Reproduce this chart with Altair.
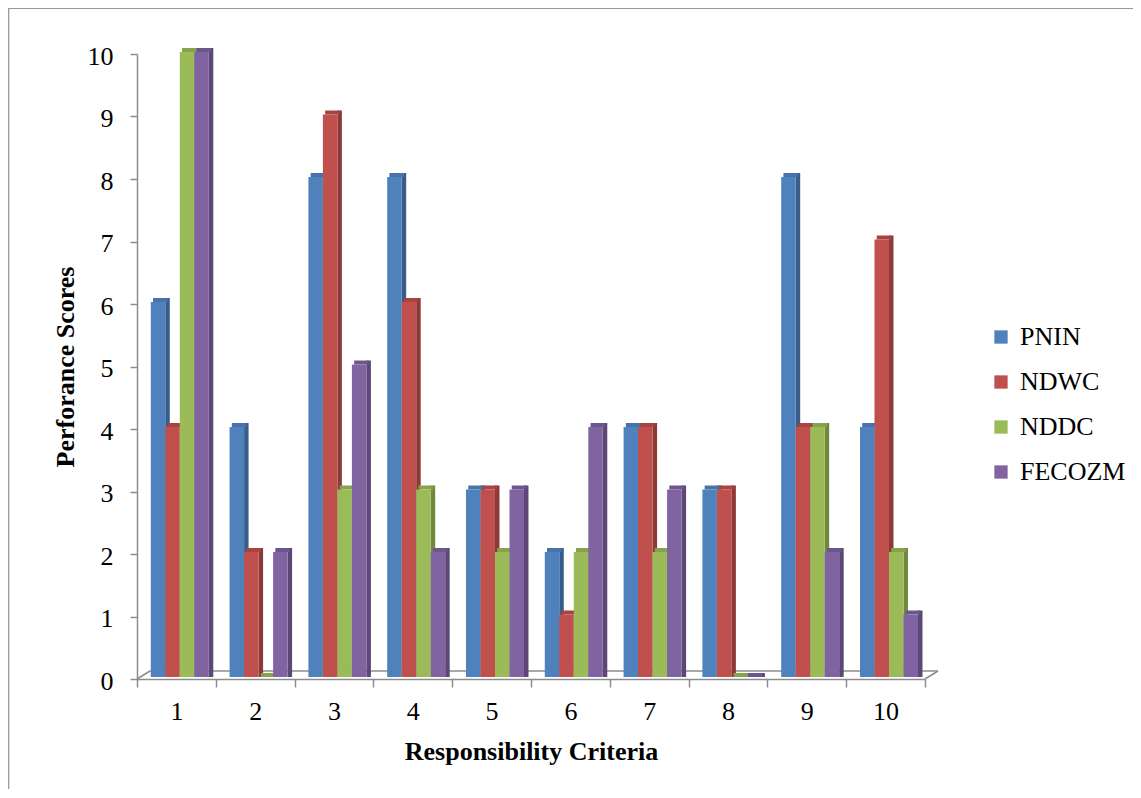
import altair as alt
import pandas as pd

# ---- data ----
groups = ["1", "2", "3", "4", "5", "6", "7", "8", "9", "10"]
series = ["PNIN", "NDWC", "NDDC", "FECOZM"]
pnin = [6, 4, 8, 8, 3, 2, 4, 3, 8, 4]
ndwc = [4, 2, 9, 6, 3, 1, 4, 3, 4, 7]
nddc = [10, 0, 3, 3, 2, 2, 2, 0, 4, 2]
fecozm = [10, 2, 5, 2, 3, 4, 3, 0, 2, 1]
y_ticks = [0, 1, 2, 3, 4, 5, 6, 7, 8, 9, 10]

# ---- styles ----
front_colors = ["#4F81BD", "#C0504D", "#9BBB59", "#8064A2"]
top_colors = ["#4673AA", "#A8433F", "#86A34B", "#6D568E"]
side_colors = ["#385D8A", "#8C3A38", "#71893F", "#5C4776"]
FONT = "Liberation Serif"
GRAY = "#8C8C8C"
GAP = 0.175   # offset of first bar inside its group (group width = 1)
BW = 0.184    # bar width in group units

rows = []
for si, (name, vals) in enumerate(zip(series, [pnin, ndwc, nddc, fecozm])):
    for gi, (g, v) in enumerate(zip(groups, vals)):
        rows.append({"group": g, "gi": gi, "series": name, "si": si, "value": v})
df = pd.DataFrame(rows)

base = alt.Chart(df).transform_calculate(
    x0=f"datum.gi + {GAP} + datum.si * {BW}",
    x1=f"datum.gi + {GAP} + (datum.si + 1) * {BW}",
)

xs = alt.Scale(domain=[0, 10], nice=False, zero=False)
ys = alt.Scale(domain=[0, 10], nice=False)
yaxis = alt.Axis(
    title="Perforance Scores", values=y_ticks, grid=False,
    tickSize=7, labelPadding=17, labelFontSize=26, labelFont=FONT, labelOffset=2,
    titleFont=FONT, titleFontSize=26, titleFontWeight="bold",
    titleX=-64, titleY=312.5, titleBaseline="alphabetic", titleAngle=270,
)
y_enc = alt.Y("value:Q", scale=ys, axis=yaxis)

sides = base.mark_rect(x2Offset=4.5, yOffset=-6, y2Offset=-2).encode(
    x=alt.X("x1:Q", scale=xs, axis=None),
    x2="x1:Q",
    y=y_enc,
    y2=alt.datum(0),
    color=alt.Color("series:N", scale=alt.Scale(domain=series, range=side_colors), legend=None),
)

tops = base.mark_rect(xOffset=2.25, x2Offset=2.25, yOffset=-6, y2Offset=-2).encode(
    x=alt.X("x0:Q", scale=xs, axis=None),
    x2="x1:Q",
    y=y_enc,
    y2="value:Q",
    color=alt.Color("series:N", scale=alt.Scale(domain=series, range=top_colors), legend=None),
)

fronts = base.mark_rect(yOffset=-2, y2Offset=-2).encode(
    x=alt.X("x0:Q", scale=xs, axis=None),
    x2="x1:Q",
    y=y_enc,
    y2=alt.datum(0),
    color=alt.Color(
        "series:N",
        scale=alt.Scale(domain=series, range=front_colors),
        legend=alt.Legend(
            title=None, orient="none", legendX=851, legendY=270,
            symbolType="square", symbolSize=177, symbolStrokeWidth=0,
            labelFontSize=26, labelFont=FONT, labelColor="black",
            rowPadding=19, labelOffset=6, padding=0,
        ),
    ),
)

axis_layer = alt.Chart(pd.DataFrame({"group": groups})).mark_point(opacity=0).encode(
    x=alt.X(
        "group:N", sort=groups,
        scale=alt.Scale(type="band", paddingInner=0, paddingOuter=0),
        axis=alt.Axis(
            title="Responsibility Criteria", tickBand="extent", labelAngle=0, grid=False,
            tickSize=8, labelPadding=11, labelFontSize=26, labelFont=FONT,
            titleFont=FONT, titleFontSize=26, titleFontWeight="bold",
            titleX=394, titleY=80, titleBaseline="alphabetic",
        ),
    )
)


def seg(x, x2, y, y2, color=GRAY, w=1.5):
    return alt.Chart(pd.DataFrame({"k": [0]})).mark_rule(color=color, strokeWidth=w).encode(
        x=alt.value(x), x2=alt.value(x2), y=alt.value(y), y2=alt.value(y2)
    )


floor_back = seg(13, 801, 617, 617)
floor_left = seg(0, 13, 625, 617)
floor_right = seg(788, 801, 625, 617)
frame_left = seg(-128.3, -128.3, -46, 740, color="#9A9A9A", w=1.3)
frame_top = seg(-129, 1000, -45.7, -45.7, color="#9A9A9A", w=1.3)

chart = alt.layer(
    frame_left, frame_top, floor_back, floor_left, floor_right,
    axis_layer, sides, tops, fronts,
).resolve_scale(
    x="independent", color="independent"
).properties(
    width=788, height=625,
    autosize=alt.AutoSizeParams(type="none"),
    padding={"left": 129, "top": 46, "right": 208, "bottom": 110},
).configure(
    font=FONT
).configure_view(
    stroke=None
).configure_axis(
    labelFont=FONT, titleFont=FONT,
    labelColor="black", titleColor="black",
    domainColor=GRAY, tickColor=GRAY, domainWidth=1.5, tickWidth=1.5,
).configure_legend(
    labelFont=FONT
)

chart.save("out.html", embed_options={"renderer": "svg", "actions": False})
